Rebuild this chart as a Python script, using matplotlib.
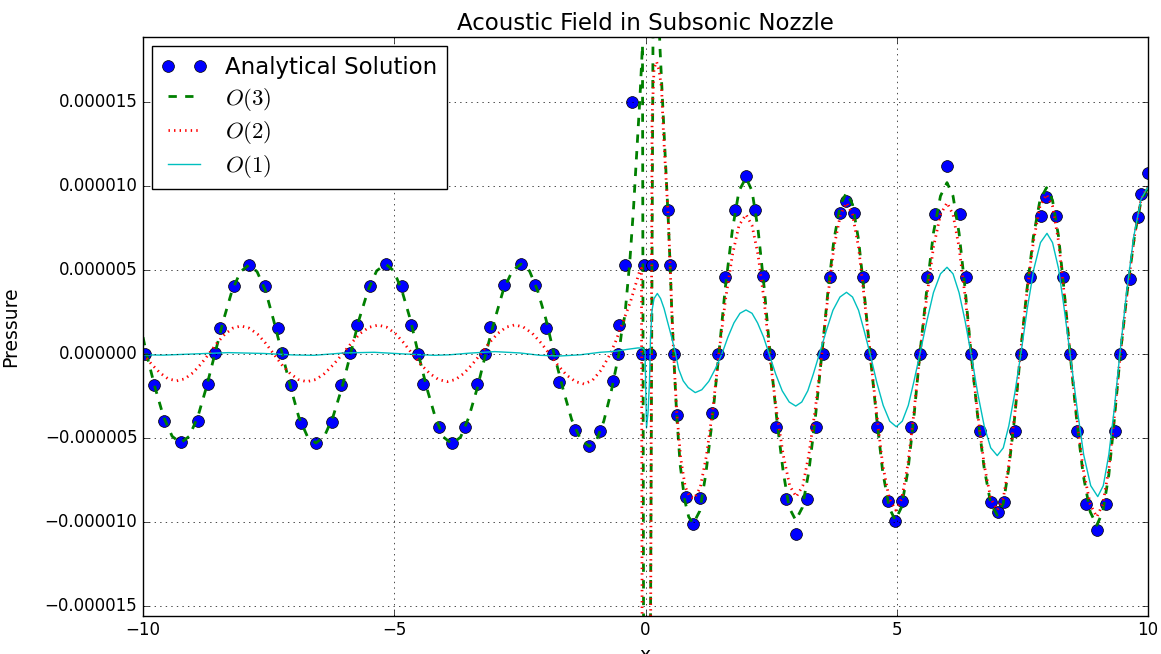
import numpy as np
import matplotlib
matplotlib.use('Agg')
import matplotlib.pyplot as plt
from matplotlib.ticker import FuncFormatter

# values in units of 1e-6 (pressure)
# analytical solution points
x_ana = [-9.97, -9.79, -9.58, -9.25, -8.90, -8.71, -8.57, -8.47, -8.18, -7.89,
         -7.57, -7.32, -7.24, -7.05, -6.85, -6.56, -6.24, -6.05, -5.88, -5.74,
         -5.48, -5.17, -4.84, -4.67, -4.52, -4.42, -4.10, -3.85, -3.59, -3.35,
         -3.19, -3.09, -2.81, -2.48, -2.20, -1.99, -1.84, -1.73, -1.41, -1.12,
         -0.90, -0.65, -0.54, -0.52, -0.41, -0.27, -0.06, -0.02, 0.09, 0.13,
         0.45, 0.49, 0.57, 0.62, 0.81, 0.95, 1.08, 1.32, 1.45, 1.59,
         1.79, 2.00, 2.17, 2.34, 2.46, 2.60, 2.79, 2.99, 3.21, 3.39,
         3.53, 3.67, 3.88, 3.99, 4.14, 4.32, 4.46, 4.61, 4.82, 4.97,
         5.11, 5.28, 5.46, 5.61, 5.76, 6.00, 6.25, 6.38, 6.48, 6.65,
         6.87, 7.01, 7.13, 7.35, 7.47, 7.66, 7.88, 7.97, 8.16, 8.30,
         8.44, 8.59, 8.77, 8.98, 9.16, 9.34, 9.44, 9.65, 9.80, 9.87, 10.0]
y_ana = [0.0, -1.85, -4.0, -5.27, -3.98, -1.79, 0.04, 1.55, 4.07, 5.3,
         4.07, 1.55, 0.04, -1.85, -4.1, -5.3, -4.06, -1.85, 0.04, 1.75,
         4.04, 5.34, 4.07, 1.71, -0.02, -1.79, -4.33, -5.32, -4.37, -1.8,
         -0.02, 1.63, 4.09, 5.34, 4.09, 1.55, -0.02, -1.65, -4.54, -5.49,
         -4.56, -1.63, 0.0, 1.71, 5.28, 15.02, 0.0, 5.28, 0.0, 5.28,
         8.57, 5.28, 0.0, -3.63, -8.49, -10.12, -8.55, -3.53, 0.0, 4.6,
         8.55, 10.61, 8.55, 4.66, 0.0, -4.33, -8.61, -10.73, -8.61, -4.33,
         0.0, 4.6, 8.37, 9.13, 8.37, 4.6, 0.0, -4.33, -8.73, -9.94,
         -8.73, -4.33, 0.0, 4.58, 8.33, 11.17, 8.33, 4.58, 0.0, -4.56,
         -8.81, -9.40, -8.81, -4.56, 0.0, 4.58, 8.23, 9.33, 8.23, 4.58,
         0.0, -4.56, -8.95, -10.48, -8.95, -4.56, 0.0, 4.48, 8.13, 9.52, 10.75]

# O(3) scheme
x_o3_left = [-10.0, -9.93,
             -9.76, -9.59, -9.42, -9.25, -9.08, -8.91, -8.74, -8.57,
             -8.40, -8.23, -8.06, -7.89, -7.73, -7.56, -7.40, -7.23,
             -7.06, -6.90, -6.73, -6.56, -6.39, -6.22, -6.04, -5.87,
             -5.70, -5.52, -5.35, -5.17, -5.01, -4.85, -4.68, -4.52,
             -4.35, -4.18, -4.02, -3.85, -3.68, -3.52, -3.35, -3.18,
             -3.00, -2.83, -2.65, -2.48, -2.31, -2.15, -1.98, -1.82,
             -1.64, -1.47, -1.29, -1.12, -0.97, -0.83, -0.68, -0.53]
y_o3_left = [1.0, 0.0,
             -2.0, -3.75, -4.9, -5.3, -4.9, -3.75, -2.0, 0.0,
             2.0, 3.75, 4.9, 5.3, 4.9, 3.75, 2.0, 0.0,
             -2.0, -3.75, -4.9, -5.3, -4.9, -3.75, -2.0, 0.0,
             2.05, 3.8, 4.95, 5.35, 4.95, 3.8, 2.05, 0.0,
             -2.05, -3.8, -4.95, -5.35, -4.95, -3.8, -2.05, 0.0,
             2.05, 3.8, 4.95, 5.35, 4.95, 3.8, 2.05, 0.0,
             -2.1, -3.9, -5.1, -5.5, -5.1, -4.0, -2.2, 0.0]
x_o3_mid = [-0.48, -0.41, -0.31, -0.24, -0.18, -0.11, -0.08, -0.06, -0.03, 0.08,
            0.15, 0.20, 0.26, 0.29, 0.33, 0.37, 0.41, 0.45, 0.49, 0.52,
            0.56, 0.62, 0.69, 0.78, 0.86, 0.95]
y_o3_mid = [1.2, 2.3, 5.6, 8.6, 11.7, 15.3, 17.1, 18.4, -30, -30,
            19.5, 23, 20.5, 18.1, 15.6, 13.0, 10.6, 8.2, 5.3, 2.8,
            0.0, -3.6, -6.6, -8.7, -9.7, -10.1]
x_o3_right = [1.08, 1.20, 1.33, 1.46, 1.59, 1.73, 1.86, 2.00,
              2.12, 2.24, 2.36, 2.48, 2.61, 2.74, 2.86, 2.99,
              3.12, 3.25, 3.38, 3.51, 3.63, 3.75, 3.88, 4.00,
              4.12, 4.24, 4.35, 4.47, 4.60, 4.72, 4.85, 4.97,
              5.09, 5.22, 5.34, 5.46, 5.60, 5.73, 5.87, 6.00,
              6.12, 6.24, 6.36, 6.48, 6.61, 6.74, 6.87, 7.00,
              7.12, 7.23, 7.35, 7.46, 7.59, 7.72, 7.85, 7.98,
              8.10, 8.22, 8.33, 8.45, 8.58, 8.71, 8.85, 8.98,
              9.10, 9.22, 9.33, 9.45, 9.59, 9.73, 9.86, 10.0]
y_o3_right = [-9.35, -7.15, -3.9, 0.0, 4.0, 7.4, 9.7, 10.5,
              9.7, 7.4, 4.0, 0.0, -3.8, -7.0, -9.15, -9.9,
              -9.15, -7.0, -3.8, 0.0, 3.7, 6.8, 8.9, 9.6,
              8.9, 6.8, 3.7, 0.0, -3.8, -7.0, -9.15, -9.9,
              -9.15, -7.0, -3.8, 0.0, 3.9, 7.2, 9.4, 10.2,
              9.4, 7.2, 3.9, 0.0, -3.7, -6.8, -8.9, -9.6,
              -8.9, -6.8, -3.7, 0.0, 3.8, 7.0, 9.15, 9.9,
              9.15, 7.0, 3.8, 0.0, -3.9, -7.2, -9.4, -10.2,
              -9.4, -7.2, -3.9, 0.0, 3.8, 7.0, 9.1, 9.9]

# O(2) scheme
x_o2_left = [-10.0,
             -9.83, -9.66, -9.50, -9.33, -9.17, -9.01, -8.85, -8.69,
             -8.53, -8.37, -8.21, -8.05, -7.89, -7.72, -7.56, -7.40,
             -7.24, -7.07, -6.91, -6.74, -6.56, -6.39, -6.21, -6.03,
             -5.85, -5.68, -5.50, -5.32, -5.15, -4.98, -4.81, -4.64,
             -4.47, -4.29, -4.12, -3.95, -3.78, -3.62, -3.45, -3.28,
             -3.11, -2.94, -2.77, -2.60, -2.43, -2.25, -2.08, -1.91,
             -1.74, -1.57, -1.39, -1.22]
y_o2_left = [0.0,
             -0.61, -1.13, -1.48, -1.6, -1.48, -1.13, -0.61, 0.0,
             0.64, 1.18, 1.54, 1.67, 1.54, 1.18, 0.64, 0.0,
             -0.63, -1.17, -1.52, -1.65, -1.52, -1.17, -0.63, 0.0,
             0.66, 1.22, 1.59, 1.72, 1.59, 1.22, 0.66, 0.0,
             -0.63, -1.17, -1.52, -1.65, -1.52, -1.17, -0.63, 0.0,
             0.66, 1.22, 1.6, 1.73, 1.6, 1.22, 0.66, 0.0,
             -0.68, -1.26, -1.65, -1.79]
x_o2_mid = [-1.05, -0.88, -0.72, -0.60, -0.50, -0.40, -0.30, -0.20, -0.12, -0.08,
            -0.06, 0.09, 0.13, 0.17, 0.22, 0.27, 0.32, 0.36, 0.41, 0.45,
            0.49, 0.52, 0.56, 0.62, 0.70, 0.79, 0.88, 0.97]
y_o2_mid = [-1.55, -0.95, -0.1, 0.7, 1.5, 2.3, 3.1, 4.1, 4.9, 5.1,
            -30, -30, 14.0, 17.0, 17.4, 16.9, 15.8, 13.0, 10.4, 8.3,
            5.3, 2.8, 0.0, -3.4, -6.2, -7.9, -8.5, -8.6]
x_o2_right = [1.09, 1.21, 1.34, 1.46, 1.59, 1.73, 1.86, 2.00,
              2.12, 2.24, 2.36, 2.47, 2.60, 2.74, 2.87, 3.00,
              3.13, 3.25, 3.38, 3.51, 3.63, 3.75, 3.88, 4.00,
              4.12, 4.24, 4.35, 4.47, 4.60, 4.72, 4.85, 4.98,
              5.10, 5.22, 5.34, 5.46, 5.60, 5.73, 5.87, 6.00,
              6.12, 6.24, 6.36, 6.48, 6.61, 6.74, 6.87, 7.00,
              7.12, 7.23, 7.35, 7.46, 7.59, 7.72, 7.85, 7.98,
              8.10, 8.22, 8.33, 8.45, 8.58, 8.71, 8.85, 8.98,
              9.10, 9.22, 9.33, 9.45, 9.59, 9.73, 9.86, 10.0]
y_o2_right = [-7.95, -6.1, -3.3, 0.0, 3.2, 5.9, 7.65, 8.3,
              7.65, 5.9, 3.2, 0.0, -3.25, -6.0, -7.85, -8.5,
              -7.85, -6.0, -3.25, 0.0, 3.45, 6.35, 8.3, 9.0,
              8.3, 6.35, 3.45, 0.0, -3.55, -6.6, -8.6, -9.3,
              -8.6, -6.6, -3.55, 0.0, 3.45, 6.35, 8.3, 9.0,
              8.3, 6.35, 3.45, 0.0, -3.55, -6.6, -8.6, -9.3,
              -8.6, -6.6, -3.55, 0.0, 3.65, 6.7, 8.8, 9.5,
              8.8, 6.7, 3.65, 0.0, -3.7, -6.85, -8.95, -9.7,
              -8.95, -6.85, -3.7, 0.0, 3.8, 7.0, 9.2, 10.0]

# O(1) scheme
x_o1_left = [-10.0, -9.6, -9.0, -8.3, -7.6, -7.0, -6.6, -6.0, -5.4, -4.8,
             -4.2, -3.9, -3.5, -3.0, -2.5, -2.1, -1.7, -1.3, -0.9, -0.6,
             -0.35, -0.15, -0.06, -0.01, 0.02, 0.05, 0.08, 0.10, 0.13, 0.17,
             0.235, 0.30, 0.37, 0.44, 0.52, 0.60, 0.66, 0.75, 0.85, 0.99]
y_o1_left = [-0.05, -0.07, 0.0, 0.08, 0.03, -0.06, -0.08, 0.06, 0.1, 0.0,
             -0.08, -0.05, 0.05, 0.14, 0.06, -0.08, -0.12, -0.05, 0.1, 0.16,
             0.28, 0.36, 0.35, 0.2, -4.4, -3.5, -1.6, 1.0, 2.6, 3.3,
             3.6, 3.3, 2.7, 1.9, 1.0, 0.0, -0.9, -1.6, -2.0, -2.3]
x_o1_right = [1.12, 1.26, 1.39, 1.52, 1.64, 1.76, 1.88, 2.00,
              2.12, 2.23, 2.35, 2.46, 2.59, 2.72, 2.86, 2.99,
              3.11, 3.23, 3.34, 3.46, 3.60, 3.73, 3.87, 4.00,
              4.12, 4.24, 4.35, 4.47, 4.60, 4.73, 4.86, 4.99,
              5.11, 5.23, 5.34, 5.46, 5.60, 5.73, 5.87, 6.00,
              6.12, 6.24, 6.36, 6.48, 6.61, 6.74, 6.87, 7.00,
              7.12, 7.23, 7.35, 7.47, 7.60, 7.73, 7.86, 7.99,
              8.10, 8.22, 8.33, 8.45, 8.59, 8.72, 8.86, 9.00,
              9.11, 9.22, 9.33, 9.44, 9.58, 9.72, 9.86, 10.0]
y_o1_right = [-2.13, -1.63, -0.88, 0.0, 1.0, 1.85, 2.42, 2.62,
              2.42, 1.85, 1.0, 0.0, -1.19, -2.19, -2.86, -3.1,
              -2.86, -2.19, -1.19, 0.0, 1.4, 2.6, 3.39, 3.67,
              3.39, 2.6, 1.4, 0.0, -1.66, -3.06, -4.0, -4.33,
              -4.0, -3.06, -1.66, 0.0, 1.97, 3.65, 4.77, 5.16,
              4.77, 3.65, 1.97, 0.0, -2.32, -4.28, -5.59, -6.05,
              -5.59, -4.28, -2.32, 0.0, 2.75, 5.08, 6.63, 7.18,
              6.63, 5.08, 2.75, 0.0, -3.25, -6.0, -7.84, -8.49,
              -7.84, -6.0, -3.25, 0.0, 3.81, 7.04, 9.2, 9.96]

scale = 1e-6
x_o3 = np.concatenate([x_o3_left, x_o3_mid, x_o3_right])
y_o3 = np.concatenate([y_o3_left, y_o3_mid, y_o3_right]) * scale
x_o2 = np.concatenate([x_o2_left, x_o2_mid, x_o2_right])
y_o2 = np.concatenate([y_o2_left, y_o2_mid, y_o2_right]) * scale
x_o1 = np.concatenate([x_o1_left, x_o1_right])
y_o1 = np.concatenate([y_o1_left, y_o1_right]) * scale

plt.style.use('classic')
fig = plt.figure(figsize=(11.61, 6.54), dpi=100)
ax = fig.add_axes([143/1161, 1 - 615.7/654, (1148 - 143)/1161, (615.7 - 37.3)/654])

ax.plot(x_ana, np.array(y_ana) * scale, 'bo', markersize=8.5, markeredgecolor='k',
        label='Analytical Solution')
ax.plot(x_o3, y_o3, 'g--', linewidth=2, label='$O(3)$')
ax.plot(x_o2, y_o2, 'r:', linewidth=2, label='$O(2)$')
ax.plot(x_o1, y_o1, 'c-', linewidth=1, label='$O(1)$')

ax.set_xlim(-10, 10)
ax.set_ylim(-15.58e-6, 18.85e-6)
ax.set_yticks(np.array([-15, -10, -5, 0, 5, 10, 15]) * scale)
ax.yaxis.set_major_formatter(FuncFormatter(lambda v, p: ('%.6f' % v).replace('-', '\u2212')))
ax.grid(True)
ax.set_xlabel('x', fontsize=13.5)
ax.set_ylabel('Pressure', fontsize=13.5)
ax.yaxis.set_label_coords(-0.122, 0.5)
ax.set_title('Acoustic Field in Subsonic Nozzle', fontsize=16.5)
ax.legend(loc='upper left', fontsize=16.5, labelspacing=0.3, borderaxespad=0.4)

fig.savefig('out.png', dpi=100)
